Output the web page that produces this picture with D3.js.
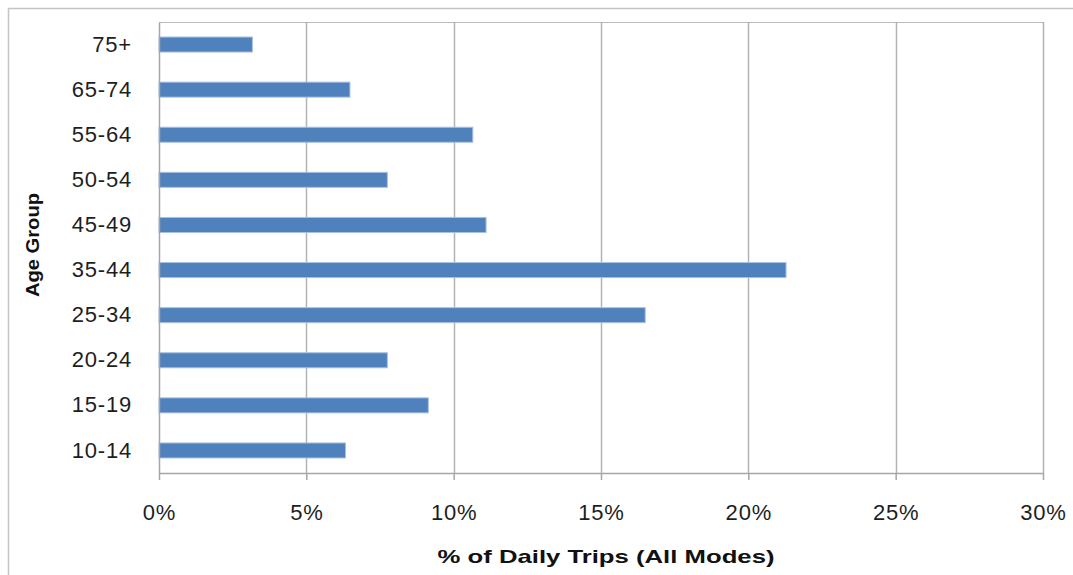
<!DOCTYPE html>
<html>
<head>
<meta charset="utf-8">
<script src="https://cdn.jsdelivr.net/npm/d3@7"></script>
<style>
  html, body { margin: 0; padding: 0; background: #ffffff; }
  svg { display: block; font-family: "Liberation Sans", Arial, sans-serif; }
</style>
</head>
<body>
<svg id="chart" width="1073" height="575"></svg>
<script>
// Share of daily trips (all modes) by age group
const ageGroups = ["10-14", "15-19", "20-24", "25-34", "35-44", "45-49", "50-54", "55-64", "65-74", "75+"];
const tripShare = [6.33, 9.14, 7.75, 16.5, 21.28, 11.1, 7.75, 10.65, 6.48, 3.17];
const xTicks = [0, 5, 10, 15, 20, 25, 30];
const xTitle = "% of Daily Trips (All Modes)";
const yTitle = "Age Group";

const svg = d3.select("#chart");
const W = 1073, H = 575;
const plot = { left: 159, top: 22, right: 1043, bottom: 473 };

// outer chart frame (open on right and bottom edges)
svg.append("path")
  .attr("d", `M8.5,${H} L8.5,8.5 L${W},8.5`)
  .attr("fill", "none")
  .attr("stroke", "#c4c4c4")
  .attr("stroke-width", 1.5);

const x = d3.scaleLinear().domain([0, 30]).range([plot.left, plot.right]);
const y = d3.scaleBand()
  .domain(ageGroups.slice().reverse())
  .range([plot.top, plot.bottom])
  .paddingInner(0.667)
  .paddingOuter(0.333);

// plot area border (top and right)
svg.append("path")
  .attr("d", `M${plot.left},${plot.top + 0.5} L${plot.right + 0.5},${plot.top + 0.5} L${plot.right + 0.5},${plot.bottom}`)
  .attr("fill", "none")
  .attr("stroke", "#bdbdbd")
  .attr("stroke-width", 1);

// vertical gridlines
svg.append("g")
  .selectAll("line")
  .data(xTicks.slice(1))
  .join("line")
  .attr("x1", d => Math.round(x(d)) + 0.5)
  .attr("x2", d => Math.round(x(d)) + 0.5)
  .attr("y1", plot.top)
  .attr("y2", plot.bottom)
  .attr("stroke", "#b3b3b3")
  .attr("stroke-width", 1.5);

// bars
svg.append("g")
  .selectAll("rect")
  .data(ageGroups.map((g, i) => ({ g, v: tripShare[i] })))
  .join("rect")
  .attr("x", x(0))
  .attr("y", d => y(d.g))
  .attr("width", d => x(d.v) - x(0))
  .attr("height", y.bandwidth())
  .attr("fill", "#4f81bd")
  .attr("stroke", "#a9c1e0")
  .attr("stroke-width", 1);

const tickFont = sel => sel
  .attr("fill", "#1e1e1e")
  .style("font-size", "22px")
  .style("letter-spacing", "0.8px")
  .style("font-family", "Liberation Sans, Arial, sans-serif");

// x axis
const xAxis = svg.append("g")
  .attr("transform", `translate(0,${plot.bottom})`)
  .call(d3.axisBottom(x).tickValues(xTicks).tickFormat(d => d + "%").tickSize(7).tickSizeOuter(0).tickPadding(24));
xAxis.select(".domain").attr("stroke", "#a6a6a6").attr("stroke-width", 1.5);
xAxis.selectAll(".tick line").attr("stroke", "#a6a6a6").attr("stroke-width", 1.5);
xAxis.selectAll(".tick text").call(tickFont);

// y axis
const yAxis = svg.append("g")
  .attr("transform", `translate(${plot.left},0)`)
  .call(d3.axisLeft(y).tickSize(0).tickPadding(27));
yAxis.select(".domain").attr("stroke", "#a6a6a6").attr("stroke-width", 1.5);
yAxis.selectAll(".tick text").call(tickFont);

// axis titles
svg.append("text")
  .attr("x", 606)
  .attr("y", 563)
  .attr("text-anchor", "middle")
  .attr("font-weight", "bold")
  .attr("font-size", 18.5)
  .attr("textLength", 337)
  .attr("lengthAdjust", "spacingAndGlyphs")
  .attr("fill", "#111")
  .text(xTitle);

svg.append("text")
  .attr("transform", "translate(39,245) rotate(-90)")
  .attr("text-anchor", "middle")
  .attr("font-weight", "bold")
  .attr("font-size", 19)
  .attr("textLength", 104)
  .attr("lengthAdjust", "spacingAndGlyphs")
  .attr("fill", "#111")
  .text(yTitle);
</script>
</body>
</html>
